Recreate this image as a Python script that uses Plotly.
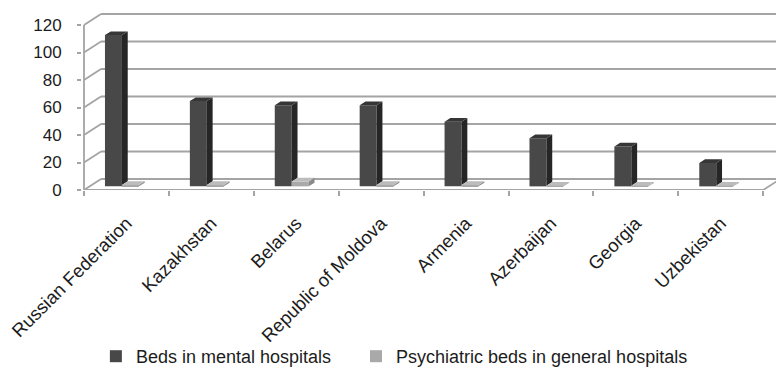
import plotly.graph_objects as go

# --- data -------------------------------------------------------------
countries = [
    "Russian Federation", "Kazakhstan", "Belarus", "Republic of Moldova",
    "Armenia", "Azerbaijan", "Georgia", "Uzbekistan",
]
mental_hospital_beds = [110, 62, 59, 59, 47, 35, 29, 17]
general_hospital_beds = [1.0, 1.0, 3.5, 1.0, 1.0, 0.5, 0.5, 0.5]
series_names = ["Beds in mental hospitals", "Psychiatric beds in general hospitals"]
y_ticks = [0, 20, 40, 60, 80, 100, 120]

# --- pseudo-3D geometry (in axis units) -------------------------------
DEPTH_X = 0.2      # horizontal shift from front plane to back wall
DEPTH_Y = 8.0      # vertical shift from front plane to back wall
BAR_FRONT = 0.33   # depth fraction of the bars' front faces
BAR_BACK = 0.67    # depth fraction of the bars' back faces
BAR_W = 0.2
SERIES_OFFSET = [-0.319, -0.119]

X_MIN, X_MAX = -0.5236, 7.6507
Y_MAX = 134.545

DARK = dict(front="#484848", side="#262626", top="#363636")
LIGHT = dict(front="#a9a9a9", side="#8a8a8a", top="#bcbcbc")
GRID = "#a4a4a4"
TEXT = "#1c1c1c"
FONT = "Liberation Sans, Arial, sans-serif"

positions = list(range(len(countries)))
fig = go.Figure()

# extra spacing after the first legend entry
legend_labels = [series_names[0] + "&nbsp;" * 4, series_names[1]]

series = [
    (legend_labels[0], mental_hospital_beds, DARK, SERIES_OFFSET[0]),
    (legend_labels[1], general_hospital_beds, LIGHT, SERIES_OFFSET[1]),
]

b1 = BAR_FRONT * DEPTH_Y
b2 = BAR_BACK * DEPTH_Y
dd = (BAR_BACK - BAR_FRONT) * DEPTH_X

# front faces as bars
for name, vals, col, off in series:
    fig.add_trace(go.Bar(
        x=positions, y=vals, base=b1,
        offset=off + BAR_FRONT * DEPTH_X, width=BAR_W,
        marker=dict(color=col["front"], line=dict(width=0)),
        name=name, showlegend=True, hoverinfo="skip",
    ))


def faces(vals, off, floor_vals):
    sx, sy, tx, ty = [], [], [], []
    for p, v, lo in zip(positions, vals, floor_vals):
        x0 = p + off + BAR_FRONT * DEPTH_X
        x1 = x0 + BAR_W
        lo = min(lo, v)
        sx += [x1, x1, x1 + dd, x1 + dd, x1, None]
        sy += [b1 + lo, b1 + v, b2 + v, b2 + lo, b1 + lo, None]
        tx += [x0, x1, x1 + dd, x0 + dd, x0, None]
        ty += [b1 + v, b1 + v, b2 + v, b2 + v, b1 + v, None]
    return sx, sy, tx, ty


# side and top faces
occluders = [general_hospital_beds, [0] * len(countries)]
for (name, vals, col, off), lo in zip(series, occluders):
    sx, sy, tx, ty = faces(vals, off, lo)
    fig.add_trace(go.Scatter(x=sx, y=sy, fill="toself", mode="lines",
                             line=dict(width=0), fillcolor=col["side"],
                             showlegend=False, hoverinfo="skip"))
    fig.add_trace(go.Scatter(x=tx, y=ty, fill="toself", mode="lines",
                             line=dict(width=0), fillcolor=col["top"],
                             showlegend=False, hoverinfo="skip"))

# walls, floor and gridlines
shapes = []
line = dict(color=GRID, width=1.8)
for v in y_ticks:
    shapes.append(dict(type="line", x0=-0.5 + DEPTH_X, x1=X_MAX + 1,
                       y0=v + DEPTH_Y, y1=v + DEPTH_Y, line=line, layer="below"))
    shapes.append(dict(type="line", x0=-0.5, x1=-0.5 + DEPTH_X,
                       y0=v, y1=v + DEPTH_Y, line=line, layer="below"))
shapes.append(dict(type="line", x0=-0.5, x1=-0.5, y0=0, y1=y_ticks[-1],
                   line=line, layer="below"))
last = len(countries) - 0.5
shapes.append(dict(type="line", x0=-0.5, x1=last, y0=0, y1=0,
                   line=line, layer="below"))
shapes.append(dict(type="line", x0=last, x1=last + DEPTH_X, y0=0, y1=DEPTH_Y,
                   line=line, layer="below"))

fig.update_layout(
    width=776, height=373,
    margin=dict(l=82, r=0, t=5, b=183, autoexpand=False),
    paper_bgcolor="white", plot_bgcolor="white",
    font=dict(family=FONT, color=TEXT, size=16),
    barmode="overlay",
    shapes=shapes,
    showlegend=True,
    legend=dict(orientation="h", x=0.02, xanchor="left", y=-0.9,
                yanchor="middle", font=dict(size=18), itemclick=False,
                traceorder="normal", bgcolor="rgba(0,0,0,0)"),
    xaxis=dict(
        range=[X_MIN, X_MAX], showgrid=False, zeroline=False, showline=False,
        tickmode="array", tickvals=positions, ticktext=countries,
        tickangle=-45, ticks="", tickfont=dict(size=18.5),
        ticklabelstandoff=18, automargin=False,
        minor=dict(ticks="outside", tick0=-0.5, dtick=1, ticklen=5,
                   tickcolor=GRID, tickwidth=1.5, showgrid=False),
        fixedrange=True,
    ),
    yaxis=dict(
        range=[0, Y_MAX], showgrid=False, zeroline=False, showline=False,
        tickmode="array", tickvals=y_ticks, ticks="outside", ticklen=4,
        tickcolor=GRID, tickwidth=1.5, tickfont=dict(size=17),
        ticklabelstandoff=12, automargin=False, fixedrange=True,
    ),
)

fig.write_html("out.html")
